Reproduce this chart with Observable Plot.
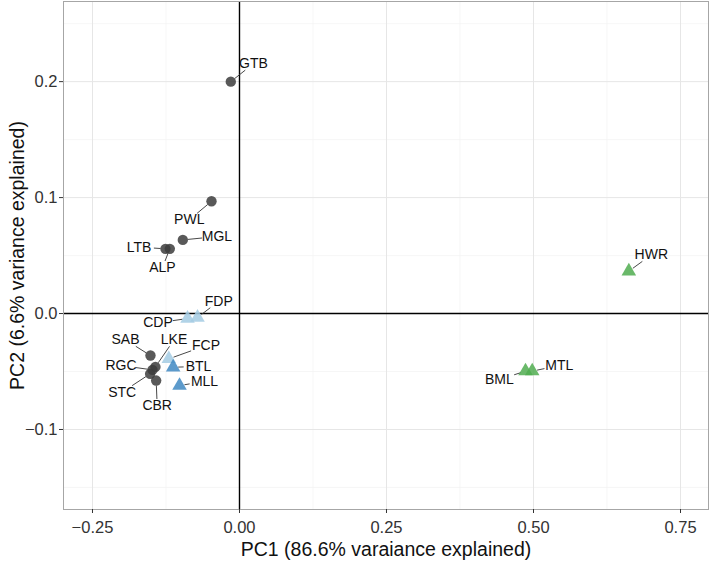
<!DOCTYPE html>
<html><head><meta charset="utf-8">
<script src="https://cdn.jsdelivr.net/npm/d3@7"></script>
<script src="https://cdn.jsdelivr.net/npm/@observablehq/plot@0.6"></script>
<style>body{margin:0;background:#fff;} svg{display:block;}</style>
</head><body><div id="chart"></div>
<script>
const sites  = ["GTB","PWL","MGL","LTB","ALP","FDP","CDP","SAB","LKE","FCP","RGC","BTL","STC","MLL","CBR","HWR","MTL","BML"];
const pc1    = [-0.0148,-0.0476,-0.0964,-0.1259,-0.1185,-0.0714,-0.0884,-0.1514,-0.1430,-0.1202,-0.1480,-0.1128,-0.1520,-0.1020,-0.1417,0.6621,0.4978,0.4864];
const pc2    = [0.2000,0.0968,0.0635,0.0558,0.0558,-0.0034,-0.0043,-0.0362,-0.0460,-0.0391,-0.0486,-0.0463,-0.0520,-0.0621,-0.0578,0.0365,-0.0497,-0.0497];
const groups = ["G1","G1","G1","G1","G1","G2","G2","G1","G1","G2","G1","G3","G1","G3","G1","G4","G4","G4"];
const labelX = [0.0238,-0.0854,-0.0383,-0.1709,-0.1310,-0.0352,-0.1386,-0.1939,-0.1114,-0.0570,-0.2015,-0.0697,-0.1995,-0.0595,-0.1400,0.7003,0.5439,0.4418];
const labelY = [0.2155,0.0808,0.0664,0.0573,0.0397,0.0106,-0.0080,-0.0227,-0.0227,-0.0276,-0.0448,-0.0457,-0.0678,-0.0586,-0.0793,0.0506,-0.0448,-0.0569];
const groupNames   = ["G1","G2","G3","G4"];
const groupColors  = ["#3c3c3c","#a3cbe3","#3f88c2","#50ad50"];
const groupSymbols = ["circle","triangle","triangle","triangle"];
const xTicks = [-0.25,0,0.25,0.5,0.75];
const yTicks = [-0.1,0,0.1,0.2];
const xMinor = [-0.125,0.125,0.375,0.625];
const yMinor = [-0.15,-0.05,0.05,0.15,0.25];
const xTitle = "PC1 (86.6% varaiance explained)";
const yTitle = "PC2 (6.6% variance explained)";

const W=709,H=566,mL=63,mR=1,mT=1,mB=57;
const xDomain=[-0.2993,0.7976], yDomain=[-0.169,0.2691];
const sx=d3.scaleLinear(xDomain,[mL,W-mR]), sy=d3.scaleLinear(yDomain,[H-mB,mT]);
const FS=14;
const rows = sites.map((s,i)=>({site:s,pc1:pc1[i],pc2:pc2[i],group:groups[i],lx:labelX[i],ly:labelY[i]}));
const segs = [];
rows.forEach(d=>{
  const px=sx(d.pc1), py=sy(d.pc2), lx=sx(d.lx), ly=sy(d.ly);
  const hw=d.site.length*FS*0.33+1, hh=6.5;
  const dx=px-lx, dy=py-ly;
  const t=Math.min(dx?hw/Math.abs(dx):Infinity, dy?hh/Math.abs(dy):Infinity);
  if (t>=1) return;
  const ex=lx+dx*t, ey=ly+dy*t;
  const len=Math.hypot(dx,dy), r=5;
  const spx=px-dx/len*r, spy=py-dy/len*r;
  segs.push({x1:sx.invert(spx),y1:sy.invert(spy),x2:sx.invert(ex),y2:sy.invert(ey)});
});

const plot = Plot.plot({
  width:W,height:H,marginLeft:mL,marginRight:mR,marginTop:mT,marginBottom:mB,
  style:{fontFamily:"'Liberation Sans', Arial, sans-serif",background:"#fff"},
  x:{domain:xDomain},
  y:{domain:yDomain},
  color:{domain:groupNames,range:groupColors},
  symbol:{domain:groupNames,range:groupSymbols},
  marks:[
    Plot.ruleX(xMinor,{stroke:"#f2f2f2",strokeWidth:0.7}),
    Plot.ruleY(yMinor,{stroke:"#f2f2f2",strokeWidth:0.7}),
    Plot.ruleX(xTicks,{stroke:"#e6e6e6",strokeWidth:1}),
    Plot.ruleY(yTicks,{stroke:"#e6e6e6",strokeWidth:1}),
    Plot.ruleX([0],{stroke:"#000",strokeWidth:1.4}),
    Plot.ruleY([0],{stroke:"#000",strokeWidth:1.4}),
    Plot.frame({stroke:"#a6a6a6"}),
    Plot.axisX({ticks:xTicks,tickFormat:d3.format(".2f"),tickSize:4,tickPadding:8,fontSize:16.5,label:null,color:"#333"}),
    Plot.axisY({ticks:yTicks,tickFormat:d3.format(".1f"),tickSize:4,tickPadding:2,fontSize:16.5,label:null,color:"#333"}),
    Plot.link(segs,{x1:"x1",y1:"y1",x2:"x2",y2:"y2",stroke:"#333",strokeWidth:0.9}),
    Plot.dot(rows,{filter:d=>d.group==="G1",x:"pc1",y:"pc2",fill:"group",symbol:"group",r:5.2,fillOpacity:0.85,stroke:"none"}),
    Plot.dot(rows,{filter:d=>d.group!=="G1",x:"pc1",y:"pc2",fill:"group",symbol:"group",r:5.4,fillOpacity:0.85,stroke:"none"}),
    Plot.text(rows,{x:"lx",y:"ly",text:"site",fontSize:FS,fill:"#111"}),
    Plot.text([xTitle],{frameAnchor:"bottom",dy:46,fontSize:19.5,fill:"#111"}),
    Plot.text([yTitle],{frameAnchor:"left",textAnchor:"middle",dx:-46,rotate:-90,fontSize:19.5,fill:"#111"})
  ]
});
document.getElementById("chart").appendChild(plot);
</script>
</body></html>
